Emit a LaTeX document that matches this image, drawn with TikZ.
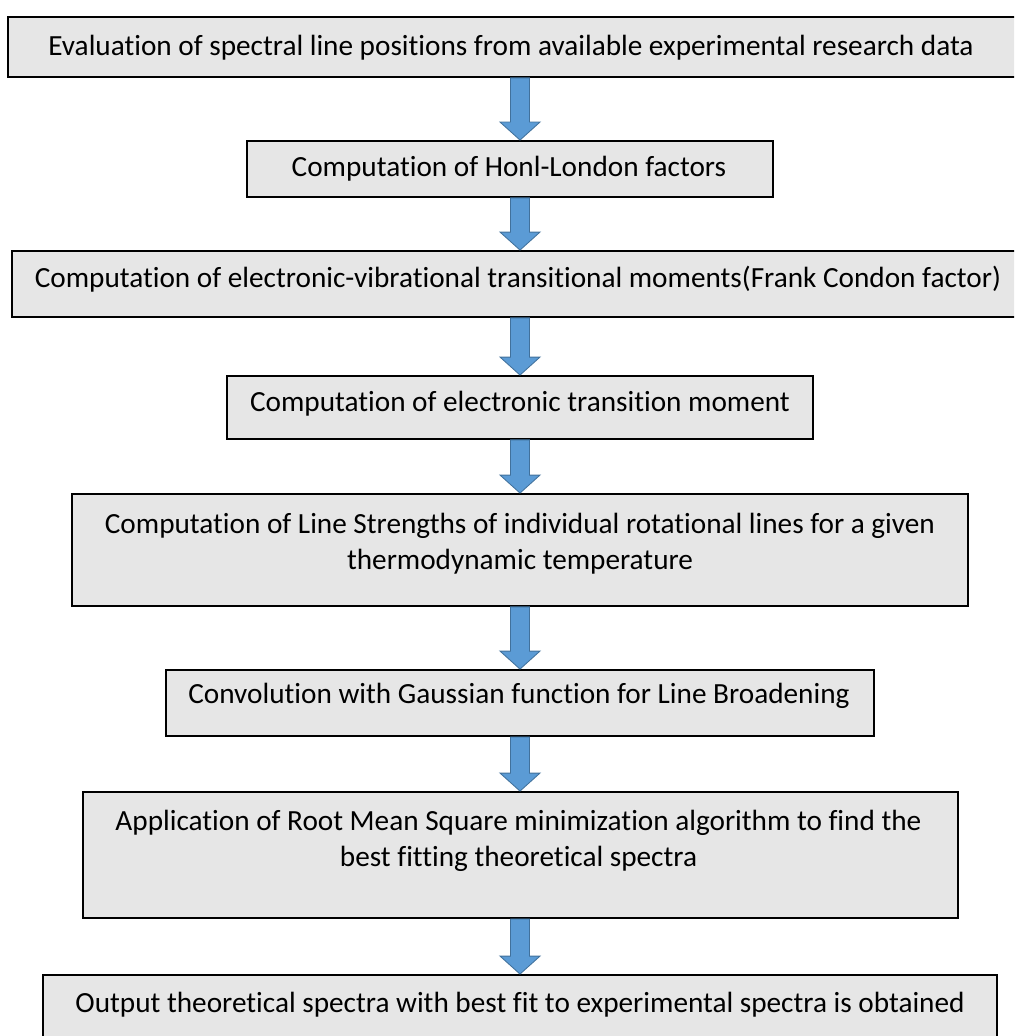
\documentclass[tikz,border=0pt]{standalone}
\usepackage{fontspec}
\setmainfont{Carlito}[Ligatures=CommonOff]
\usetikzlibrary{fit,calc}
\definecolor{boxgray}{HTML}{E6E6E6}
\definecolor{arrowblue}{HTML}{5B9BD5}
\definecolor{arrowedge}{HTML}{41719C}
\tikzset{
	stepbox/.style={draw=black,fill=boxgray,line width=1.3pt,inner sep=0pt,rectangle},
	steptext/.style={font=\fontsize{20.8}{25.5}\selectfont,align=center,inner sep=0pt},
	blockarrow/.style={draw=arrowedge,fill=arrowblue,line width=0.6pt,line join=miter}
}
% block arrow from the bottom of one box to the top of the next, at x of (ax)
\newcommand\flowarrow[2]{%
	\draw[blockarrow] let \p1=(#1.south -| ax), \p2=(#2.north -| ax) in
		(\x1-0.2375cm,\y1) -- (\x1+0.2375cm,\y1) -- (\x1+0.2375cm,\y2+0.45cm)
		-- (\x1+0.5cm,\y2+0.45cm) -- (\x2,\y2) -- (\x1-0.5cm,\y2+0.45cm)
		-- (\x1-0.2375cm,\y2+0.45cm) -- cycle;}
\begin{document}
\begin{tikzpicture}[x=0.025cm,y=-0.025cm]
		\useasboundingbox (0,0) rectangle (1014,1036);
		\clip (0,0) rectangle (1014,1036);
		\coordinate (ax) at (520,0);
		\node[stepbox,fit={(8,17) (1020,77)}] (b1) {};
		\node[stepbox,fit={(247,141) (773,197)}] (b2) {};
		\node[stepbox,fit={(12,251) (1020,317)}] (b3) {};
		\node[stepbox,fit={(227,376) (813,439)}] (b4) {};
		\node[stepbox,fit={(72,494) (968,606)}] (b5) {};
		\node[stepbox,fit={(166,670) (874,736)}] (b6) {};
		\node[stepbox,fit={(83,792) (958,918)}] (b7) {};
		\node[stepbox,fit={(43,975) (997,1045)}] (b8) {};
		\node[steptext] (t1) at (511,48) {Evaluation of spectral line positions from available experimental research data};
		\node[steptext] (t2) at (509,169) {Computation of Honl-London factors};
		\node[steptext] (t3) at (518,279) {Computation of electronic-vibrational transitional moments(Frank Condon factor)};
		\node[steptext] (t4) at (520,404) {Computation of electronic transition moment};
		\node[steptext] (t5) at (520,544) {Computation of Line Strengths of individual rotational lines for a given\\thermodynamic temperature};
		\node[steptext] (t6) at (519,696) {Convolution with Gaussian function for Line Broadening};
		\node[steptext] (t7) at (518.5,841) {Application of Root Mean Square minimization algorithm to find the\\best fitting theoretical spectra};
		\node[steptext] (t8) at (520,1005) {Output theoretical spectra with best fit to experimental spectra is obtained};
		\flowarrow{b1}{b2}
		\flowarrow{b2}{b3}
		\flowarrow{b3}{b4}
		\flowarrow{b4}{b5}
		\flowarrow{b5}{b6}
		\flowarrow{b6}{b7}
		\flowarrow{b7}{b8}
\end{tikzpicture}
\end{document}
